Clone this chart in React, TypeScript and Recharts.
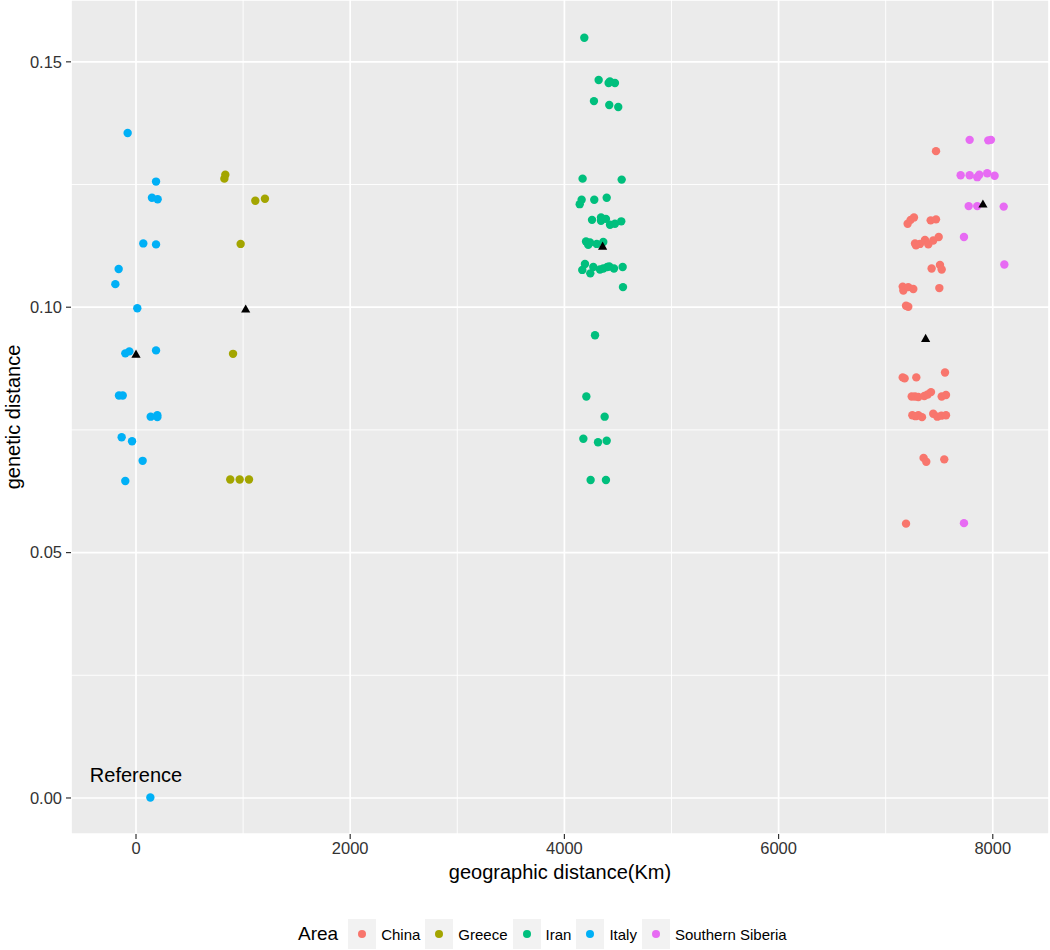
import React from 'react'
import {
  ScatterChart,
  Scatter,
  XAxis,
  YAxis,
  CartesianGrid,
  ReferenceLine,
} from 'recharts'

// geographic distance (Km) vs genetic distance
const china = [
  { x: 7470, y: 0.1318 }, { x: 7205, y: 0.117 }, { x: 7233, y: 0.1178 }, { x: 7264, y: 0.1183 },
  { x: 7420, y: 0.1177 }, { x: 7470, y: 0.1179 }, { x: 7274, y: 0.113 }, { x: 7320, y: 0.1129 },
  { x: 7367, y: 0.1137 }, { x: 7398, y: 0.1128 }, { x: 7444, y: 0.1136 }, { x: 7495, y: 0.1143 },
  { x: 7283, y: 0.1126 }, { x: 7429, y: 0.1079 }, { x: 7507, y: 0.1086 }, { x: 7523, y: 0.1077 },
  { x: 7159, y: 0.1042 }, { x: 7165, y: 0.1034 }, { x: 7211, y: 0.1041 }, { x: 7258, y: 0.1037 },
  { x: 7501, y: 0.1039 }, { x: 7190, y: 0.1003 }, { x: 7211, y: 0.1001 }, { x: 7159, y: 0.0857 },
  { x: 7177, y: 0.0855 }, { x: 7286, y: 0.0857 }, { x: 7554, y: 0.0867 }, { x: 7243, y: 0.0818 },
  { x: 7274, y: 0.0818 }, { x: 7305, y: 0.0817 }, { x: 7361, y: 0.0819 }, { x: 7392, y: 0.0822 },
  { x: 7423, y: 0.0827 }, { x: 7523, y: 0.0818 }, { x: 7563, y: 0.0821 }, { x: 7249, y: 0.078 },
  { x: 7280, y: 0.0778 }, { x: 7305, y: 0.078 }, { x: 7339, y: 0.0776 }, { x: 7444, y: 0.0783 },
  { x: 7482, y: 0.0777 }, { x: 7520, y: 0.0779 }, { x: 7563, y: 0.078 }, { x: 7354, y: 0.0693 },
  { x: 7379, y: 0.0685 }, { x: 7547, y: 0.069 }, { x: 7190, y: 0.0559 },
]

const greece = [
  { x: 834, y: 0.127 }, { x: 825, y: 0.1262 }, { x: 1114, y: 0.1217 }, { x: 1204, y: 0.1221 },
  { x: 977, y: 0.1129 }, { x: 906, y: 0.0905 }, { x: 880, y: 0.0649 }, { x: 968, y: 0.0649 },
  { x: 1055, y: 0.0649 },
]

const iran = [
  { x: 4186, y: 0.1549 }, { x: 4320, y: 0.1463 }, { x: 4413, y: 0.1457 }, { x: 4472, y: 0.1457 },
  { x: 4425, y: 0.146 }, { x: 4276, y: 0.142 }, { x: 4419, y: 0.1412 }, { x: 4503, y: 0.1408 },
  { x: 4170, y: 0.1262 }, { x: 4535, y: 0.126 }, { x: 4161, y: 0.1219 }, { x: 4143, y: 0.121 },
  { x: 4279, y: 0.1219 }, { x: 4395, y: 0.1223 }, { x: 4258, y: 0.1178 }, { x: 4342, y: 0.1183 },
  { x: 4342, y: 0.1176 }, { x: 4388, y: 0.118 }, { x: 4426, y: 0.1168 }, { x: 4472, y: 0.117 },
  { x: 4531, y: 0.1175 }, { x: 4202, y: 0.1134 }, { x: 4239, y: 0.1132 }, { x: 4223, y: 0.1127 },
  { x: 4302, y: 0.1129 }, { x: 4363, y: 0.1133 }, { x: 4192, y: 0.1088 }, { x: 4167, y: 0.1076 },
  { x: 4242, y: 0.1069 }, { x: 4270, y: 0.1082 }, { x: 4332, y: 0.1077 }, { x: 4400, y: 0.1082 },
  { x: 4463, y: 0.1079 }, { x: 4363, y: 0.1079 }, { x: 4544, y: 0.1082 }, { x: 4419, y: 0.1083 },
  { x: 4547, y: 0.1041 }, { x: 4286, y: 0.0943 }, { x: 4205, y: 0.0818 }, { x: 4376, y: 0.0777 },
  { x: 4177, y: 0.0732 }, { x: 4314, y: 0.0725 }, { x: 4395, y: 0.0728 }, { x: 4245, y: 0.0648 },
  { x: 4388, y: 0.0648 },
]

const italy = [
  { x: -78, y: 0.1355 }, { x: 187, y: 0.1256 }, { x: 149, y: 0.1223 }, { x: 202, y: 0.122 },
  { x: 68, y: 0.113 }, { x: 187, y: 0.1128 }, { x: -162, y: 0.1078 }, { x: -193, y: 0.1047 },
  { x: 12, y: 0.0998 }, { x: -100, y: 0.0906 }, { x: -62, y: 0.091 }, { x: 187, y: 0.0912 },
  { x: -159, y: 0.082 }, { x: -124, y: 0.082 }, { x: 137, y: 0.0777 }, { x: 199, y: 0.078 },
  { x: 199, y: 0.0776 }, { x: -134, y: 0.0735 }, { x: -37, y: 0.0727 }, { x: 62, y: 0.0687 },
  { x: -100, y: 0.0646 }, { x: 134, y: 0.0001 },
]

const siberia = [
  { x: 7784, y: 0.1341 }, { x: 7958, y: 0.134 }, { x: 7983, y: 0.1341 }, { x: 7700, y: 0.1269 },
  { x: 7784, y: 0.1269 }, { x: 7855, y: 0.1265 }, { x: 7874, y: 0.127 }, { x: 7948, y: 0.1273 },
  { x: 8017, y: 0.1268 }, { x: 7775, y: 0.1206 }, { x: 7855, y: 0.1206 }, { x: 8102, y: 0.1205 },
  { x: 7731, y: 0.1143 }, { x: 8108, y: 0.1087 }, { x: 7731, y: 0.056 },
]

// group means (black triangles)
const means = [
  { x: 0, y: 0.0905 }, { x: 1024, y: 0.0997 }, { x: 4357, y: 0.1125 },
  { x: 7373, y: 0.0937 }, { x: 7908, y: 0.1211 },
]

const annotations = [{ x: 0, y: 0.0047, label: 'Reference' }]

const xTicks = [0, 2000, 4000, 6000, 8000]
const xMinor = [1000, 3000, 5000, 7000]
const yTicks = [0, 0.05, 0.1, 0.15]
const yMinor = [0.025, 0.075, 0.125]

const SERIES = [
  { name: 'China', data: china, color: '#F8766D' },
  { name: 'Greece', data: greece, color: '#A3A500' },
  { name: 'Iran', data: iran, color: '#00BF7D' },
  { name: 'Italy', data: italy, color: '#00B0F6' },
  { name: 'Southern Siberia', data: siberia, color: '#E76BF3' },
]

const FONT = '"Liberation Sans", Arial, sans-serif'

const Dot = (props: any) => {
  const { cx, cy, fill } = props
  if (cx == null || cy == null) return null
  return <circle cx={cx} cy={cy} r={4.2} fill={fill} />
}

const Triangle = (props: any) => {
  const { cx, cy } = props
  if (cx == null || cy == null) return null
  const h = 4.5
  return (
    <polygon
      points={`${cx - 4.6},${cy + h * 0.85} ${cx + 4.6},${cy + h * 0.85} ${cx},${cy - h * 0.95}`}
      fill="#000"
    />
  )
}

const TextMark = (props: any) => {
  const { cx, cy, payload } = props
  if (cx == null || cy == null) return null
  return (
    <text
      x={cx}
      y={cy}
      textAnchor="middle"
      dominantBaseline="central"
      fontSize={20}
      fontFamily={FONT}
      fill="#000"
    >
      {payload.label}
    </text>
  )
}

const YTitle = (props: any) => {
  const vb = props.viewBox || {}
  const cx = (vb.x || 0) + 13
  const cy = (vb.y || 0) + (vb.height || 0) / 2
  return (
    <text
      x={cx}
      y={cy}
      transform={`rotate(-90, ${cx}, ${cy})`}
      textAnchor="middle"
      dominantBaseline="central"
      fontSize={20}
      fontFamily={FONT}
      fill="#000"
    >
      genetic distance
    </text>
  )
}

function LegendRow() {
  return (
    <div
      style={{
        position: 'absolute',
        left: 298,
        top: 919,
        height: 30,
        display: 'flex',
        alignItems: 'center',
        fontFamily: FONT,
        color: '#000',
      }}
    >
      <span style={{ fontSize: 19, marginRight: 10 }}>Area</span>
      {SERIES.map((s) => (
        <div key={s.name} style={{ display: 'flex', alignItems: 'center', marginRight: 5 }}>
          <div
            style={{
              width: 28,
              height: 30,
              background: '#F2F2F2',
              display: 'flex',
              alignItems: 'center',
              justifyContent: 'center',
            }}
          >
            <div style={{ width: 8, height: 8, borderRadius: 4, background: s.color }} />
          </div>
          <span style={{ fontSize: 15, marginLeft: 5 }}>{s.name}</span>
        </div>
      ))}
    </div>
  )
}

export default function App() {
  return (
    <div style={{ position: 'absolute', left: 0, top: 0, width: 1050, height: 950, background: '#fff' }}>
      <ScatterChart
        width={1050}
        height={950}
        margin={{ top: 0, right: 1, bottom: 66, left: 0 }}
      >
        <CartesianGrid fill="#EBEBEB" stroke="#FFFFFF" strokeWidth={1.7} />
        {xMinor.map((v) => (
          <ReferenceLine key={'x' + v} x={v} stroke="#FFFFFF" strokeWidth={0.9} />
        ))}
        {yMinor.map((v) => (
          <ReferenceLine key={'y' + v} y={v} stroke="#FFFFFF" strokeWidth={0.9} />
        ))}
        <XAxis
          type="number"
          dataKey="x"
          domain={[-607, 8525]}
          ticks={xTicks}
          allowDataOverflow
          height={50}
          axisLine={false}
          tickLine={{ stroke: '#333333', strokeWidth: 1.2 }}
          tickSize={5}
          tickMargin={3}
          tick={{ fill: '#333333', fontSize: 16.5, fontFamily: FONT }}
          label={{
            value: 'geographic distance(Km)',
            position: 'insideBottom',
            offset: 5,
            fill: '#000',
            fontSize: 20,
            fontFamily: FONT,
          }}
        />
        <YAxis
          type="number"
          dataKey="y"
          domain={[-0.00734, 0.1626]}
          ticks={yTicks}
          allowDataOverflow
          width={71}
          axisLine={false}
          tickLine={{ stroke: '#333333', strokeWidth: 1.2 }}
          tickSize={5}
          tickMargin={4}
          tickFormatter={(v: number) => v.toFixed(2)}
          tick={{ fill: '#333333', fontSize: 16.5, fontFamily: FONT }}
          label={<YTitle />}
        />
        {SERIES.map((s) => (
          <Scatter
            key={s.name}
            name={s.name}
            data={s.data}
            fill={s.color}
            shape={<Dot />}
            isAnimationActive={false}
          />
        ))}
        <Scatter name="mean" data={means} fill="#000" shape={<Triangle />} isAnimationActive={false} />
        <Scatter
          name="annotation"
          data={annotations}
          fill="#000"
          shape={<TextMark />}
          isAnimationActive={false}
        />
      </ScatterChart>
      <LegendRow />
    </div>
  )
}
